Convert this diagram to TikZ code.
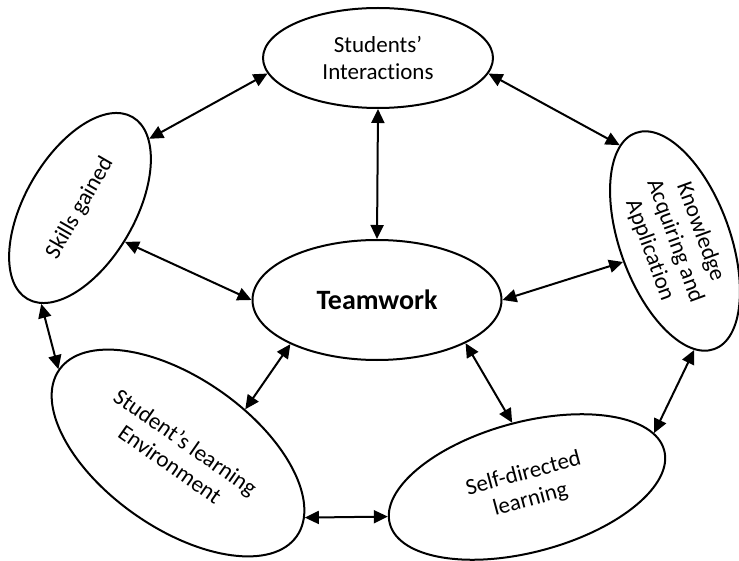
\documentclass[tikz,border=0pt]{standalone}
\usepackage{fontspec}
\setmainfont{Carlito}[Ligatures=NoCommon]
\usepackage{tikz}
\usetikzlibrary{shapes.geometric,arrows.meta}

\begin{document}
\begin{tikzpicture}[x=1pt, y=-1pt]
  \tikzstyle{topic} = [ellipse, draw, line width=2pt, inner sep=0pt, align=center,
                       font=\fontsize{23}{27}\selectfont]
  \tikzstyle{link} = [{Triangle[length=14pt,width=13pt]}-{Triangle[length=14pt,width=13pt]}, line width=2pt]
  \useasboundingbox (0,0) rectangle (739,561);
  % Define nodes
  \node[topic, minimum width=249pt, minimum height=120pt, font=\fontsize{28}{32}\selectfont\bfseries] (tw) at (377,300) {Teamwork};
  \node[topic, minimum width=230pt, minimum height=100pt] (si) at (378,58) {Students’\\Interactions};
  \node[topic, minimum width=210pt, minimum height=110pt, rotate=60] (skills) at (80,208) {Skills gained};
  \node[topic, minimum width=230pt, minimum height=110pt, rotate=-70] (know) at (675,241) {Knowledge\\Acquiring and\\Application};
  \node[topic, minimum width=290pt, minimum height=150pt, rotate=-35] (env) at (178,453) {Student’s learning\\Environment};
  \node[topic, minimum width=284pt, minimum height=130pt, rotate=15] (self) at (527,487) {Self-directed\\learning};

  % Links
  \draw[link] (si.south) -- (tw.north);
  \draw[link] (si.188) -- (skills.-15);
  \draw[link] (si.352) -- (know.190);
  \draw[link] (skills.-97) -- (tw.west);
  \draw[link] (tw.east) -- (know.272);
  \draw[link] (skills.188) -- (env.180);
  \draw[link] (tw.207) -- (env.68);
  \draw[link] (tw.334) -- (self.88);
  \draw[link] (know.350) -- (self.8);
  \draw[link] (env.8) -- (self.177);
\end{tikzpicture}
\end{document}
